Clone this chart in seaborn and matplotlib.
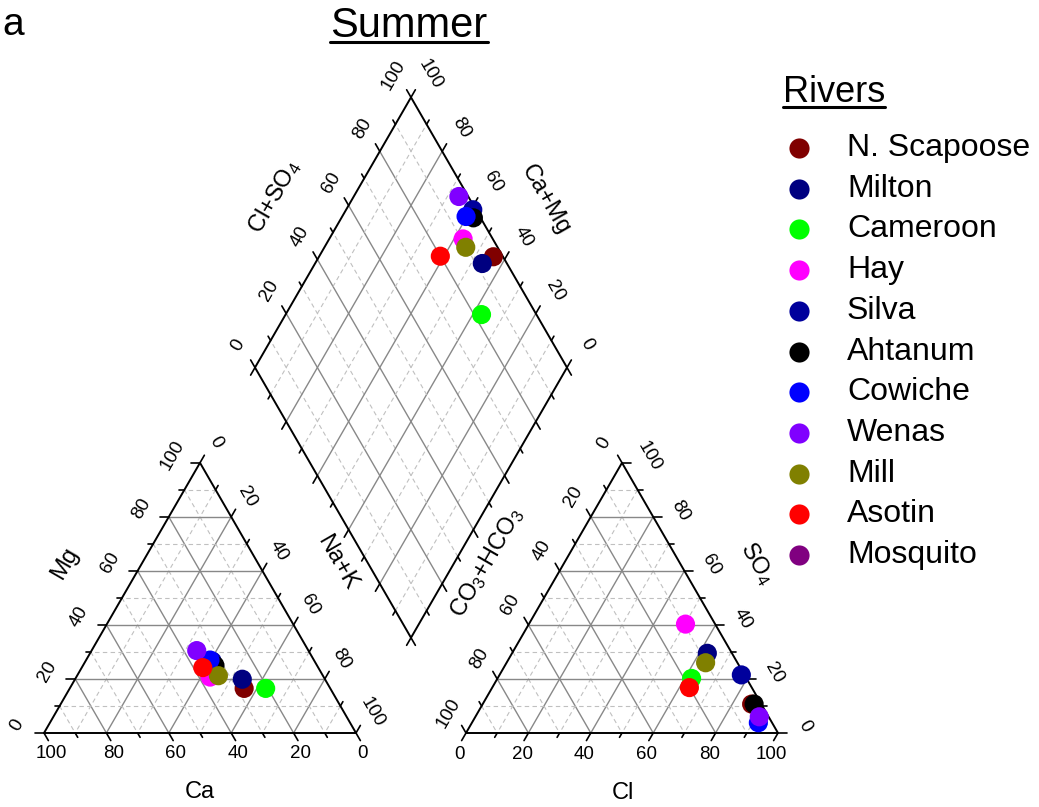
import numpy as np
import pandas as pd
import matplotlib
matplotlib.use("Agg")
import matplotlib.pyplot as plt
from matplotlib.lines import Line2D
import seaborn as sns

# ---------------- data (percent of meq) ----------------
rivers = ["N. Scapoose", "Milton", "Cameroon", "Hay", "Silva", "Ahtanum",
          "Cowiche", "Wenas", "Mill", "Asotin", "Mosquito"]
colors = ["#800000", "#000080", "#00ff00", "#ff00ff", "#00009c", "#000000",
          "#0000ff", "#8000ff", "#808000", "#ff0000", "#800080"]
ca   = [27.6, 26.5, 20.7, 36.4, 32.8, 32.7, 33.3, 35.8, 33.5, 37.0, np.nan]
mg   = [16.5, 19.9, 16.5, 20.7, 26.6, 25.0, 27.0, 30.5, 21.2, 24.2, np.nan]
nak  = [55.9, 53.6, 62.8, 42.9, 40.6, 42.3, 39.7, 33.7, 45.3, 38.8, np.nan]
cl   = [86.2, 62.6, 62.2, 50.2, 77.5, 87.0, 91.8, 91.0, 63.8, 63.2, np.nan]
so4  = [10.7, 29.5, 20.2, 40.3, 21.5, 10.7, 3.8, 6.0, 26.0, 16.8, np.nan]
hco3 = [3.1, 7.9, 17.6, 9.5, 1.0, 2.3, 4.4, 3.0, 10.2, 20.0, np.nan]
tick_values = list(range(0, 101, 10))

# ---------------- style ----------------
sns.set_style("white")
plt.rcParams['font.family'] = ['Liberation Sans', 'DejaVu Sans']
plt.rcParams['text.color'] = 'black'
plt.rcParams['mathtext.fontset'] = 'custom'
plt.rcParams['mathtext.rm'] = 'Liberation Sans'
plt.rcParams['mathtext.it'] = 'Liberation Sans:italic'
plt.rcParams['mathtext.default'] = 'regular'

W, Hpx = 1039, 807
SC = 312.0
OX, OY = 44.0, 733.0
fig = plt.figure(figsize=(W / 100, Hpx / 100), dpi=100)
ax = fig.add_axes([0, 0, 1, 1])
ax.set_xlim(-OX / SC, (W - OX) / SC)
ax.set_ylim((OY - Hpx) / SC, OY / SC)
ax.axis('off')

H = np.sqrt(3) / 2
GAP = 110.0 / SC
X0 = 1 + GAP
B = np.array([1 + GAP / 2, GAP * H])
UR = np.array([0.5, H])
UL = np.array([-0.5, H])

MAJ_C, MIN_C = '#888888', '#c0c0c0'
TICK_FS = 13.5
LAB_FS = 17


def tpoint(V, fr):
    p = np.zeros(2)
    for k, v in fr.items():
        p = p + v / 100.0 * np.asarray(V[k], dtype=float)
    return p


def draw_ternary(V, comps, edges):
    # grid
    for k in comps:
        j, m = [c for c in comps if c != k]
        for t in range(10, 100, 10):
            p1 = tpoint(V, {k: t, j: 0, m: 100 - t})
            p2 = tpoint(V, {k: t, m: 0, j: 100 - t})
            if t % 20 == 0:
                ax.plot([p1[0], p2[0]], [p1[1], p2[1]], color=MAJ_C, lw=1.0, zorder=1)
            else:
                ax.plot([p1[0], p2[0]], [p1[1], p2[1]], color=MIN_C, lw=0.8,
                        ls=(0, (4, 3)), zorder=1)
    # frame
    vs = [np.asarray(V[c]) for c in comps] + [np.asarray(V[comps[0]])]
    ax.plot([v[0] for v in vs], [v[1] for v in vs], color='black', lw=1.4, zorder=3)
    # ticks + labels
    for k, zero, other, rot, off in edges:
        rest = [c for c in comps if c not in (k, zero)][0]
        pa = tpoint(V, {k: 50, zero: 0, rest: 50})
        pb = tpoint(V, {k: 50, rest: 0, zero: 50})
        d = (pa - pb) / np.linalg.norm(pa - pb)
        for t in tick_values:
            p = tpoint(V, {k: t, zero: 0, rest: 100 - t})
            L = 0.028 if t % 20 == 0 else 0.016
            ax.plot([p[0], p[0] + d[0] * L], [p[1], p[1] + d[1] * L],
                    color='black', lw=1.2, zorder=3)
            if t % 20 == 0:
                ax.text(p[0] + off[0], p[1] + off[1], str(t), rotation=rot,
                        ha='center', va='center', fontsize=TICK_FS, zorder=4)


# left (cation) triangle
VL = {'Ca': (0, 0), 'NaK': (1, 0), 'Mg': (0.5, H)}
draw_ternary(VL, ['Ca', 'NaK', 'Mg'],
             [('Ca', 'Mg', 'NaK', 0, (0.022, -0.065)),
              ('Mg', 'NaK', 'Ca', 60, (-0.088, 0.025)),
              ('NaK', 'Ca', 'Mg', -60, (0.052, 0.065))])
# right (anion) triangle
VR = {'CO3': (X0, 0), 'Cl': (X0 + 1, 0), 'SO4': (X0 + 0.5, H)}
draw_ternary(VR, ['CO3', 'Cl', 'SO4'],
             [('Cl', 'SO4', 'CO3', 0, (-0.02, -0.07)),
              ('CO3', 'Cl', 'SO4', 60, (-0.057, 0.064)),
              ('SO4', 'CO3', 'Cl', -60, (0.087, 0.02))])


# diamond
def dpt(a, c):
    return B + a / 100.0 * UR + c / 100.0 * UL


for t in range(10, 100, 10):
    for p1, p2 in [(dpt(t, 0), dpt(t, 100)), (dpt(0, t), dpt(100, t))]:
        if t % 20 == 0:
            ax.plot([p1[0], p2[0]], [p1[1], p2[1]], color=MAJ_C, lw=1.0, zorder=1)
        else:
            ax.plot([p1[0], p2[0]], [p1[1], p2[1]], color=MIN_C, lw=0.8,
                    ls=(0, (4, 3)), zorder=1)
corners = [dpt(0, 0), dpt(100, 0), dpt(100, 100), dpt(0, 100), dpt(0, 0)]
ax.plot([p[0] for p in corners], [p[1] for p in corners], color='black', lw=1.4, zorder=3)
for t in tick_values:
    L = 0.028 if t % 20 == 0 else 0.016
    # upper-left edge (c=100): Cl+SO4
    p = dpt(t, 100)
    ax.plot([p[0], p[0] + UL[0] * L], [p[1], p[1] + UL[1] * L], color='black', lw=1.2, zorder=3)
    if t % 20 == 0:
        ax.text(p[0] - 0.055, p[1] + 0.072, str(t), rotation=60, ha='center',
                va='center', fontsize=TICK_FS)
    # upper-right edge (a=100): Ca+Mg
    p = dpt(100, t)
    ax.plot([p[0], p[0] + UR[0] * L], [p[1], p[1] + UR[1] * L], color='black', lw=1.2, zorder=3)
    if t % 20 == 0:
        ax.text(p[0] + 0.062, p[1] + 0.074, str(t), rotation=-60, ha='center',
                va='center', fontsize=TICK_FS)
    # lower edges: ticks only
    p = dpt(0, t)
    ax.plot([p[0], p[0] - UR[0] * L], [p[1], p[1] - UR[1] * L], color='black', lw=1.2, zorder=3)
    p = dpt(t, 0)
    ax.plot([p[0], p[0] - UL[0] * L], [p[1], p[1] - UL[1] * L], color='black', lw=1.2, zorder=3)

# axis titles
ax.text(0.5, -0.189, "Ca", ha='center', va='center', fontsize=LAB_FS)
ax.text(0.067, 0.545, "Mg", rotation=60, ha='center', va='center', fontsize=LAB_FS)
ax.text(0.939, 0.545, "Na+K", rotation=-60, ha='center', va='center', fontsize=LAB_FS)
ax.text(1.856, -0.192, "Cl", ha='center', va='center', fontsize=LAB_FS)
ax.text(1.42, 0.545, r"CO$_3$+HCO$_3$", rotation=60, ha='center', va='center', fontsize=LAB_FS)
ax.text(2.285, 0.545, r"SO$_4$", rotation=-60, ha='center', va='center', fontsize=LAB_FS)
ax.text(0.740, 1.718, r"Cl+SO$_4$", rotation=60, ha='center', va='center', fontsize=LAB_FS)
ax.text(1.606, 1.708, "Ca+Mg", rotation=-60, ha='center', va='center', fontsize=LAB_FS)

# ---------------- data points ----------------
df = pd.DataFrame({"river": rivers, "Ca": ca, "Mg": mg, "NaK": nak,
                   "Cl": cl, "SO4": so4, "HCO3": hco3}).dropna()
left = pd.DataFrame({"river": df.river,
                     "x": (df.NaK + 0.5 * df.Mg) / 100,
                     "y": H * df.Mg / 100})
right = pd.DataFrame({"river": df.river,
                      "x": X0 + (df.Cl + 0.5 * df.SO4) / 100,
                      "y": H * df.SO4 / 100})
a = df.Cl + df.SO4
c = df.Ca + df.Mg
dia = pd.DataFrame({"river": df.river,
                    "x": B[0] + 0.5 * (a - c) / 100,
                    "y": B[1] + H * (a + c) / 100})
pts = pd.concat([left, right, dia], ignore_index=True)
palette = dict(zip(rivers, colors))
sns.scatterplot(data=pts, x="x", y="y", hue="river", palette=palette, s=190,
                edgecolor='none', linewidth=0, legend=False, ax=ax, zorder=5)
ax.set_xlim(-OX / SC, (W - OX) / SC)
ax.set_ylim((OY - Hpx) / SC, OY / SC)
ax.axis('off')


# ---------------- titles & legend (figure pixel coords) ----------------
def fx(px):
    return px / W


def fy(py):
    return 1 - py / Hpx


fig.text(fx(2), fy(35), "a", ha='left', va='baseline', fontsize=28)
t_sum = fig.text(fx(409), fy(37), "Summer", ha='center', va='baseline', fontsize=30)
t_riv = fig.text(fx(783), fy(102), "Rivers", ha='left', va='baseline', fontsize=26)
for i, (name, col) in enumerate(zip(rivers, colors)):
    yy = 148 + 40.7 * i
    fig.add_artist(Line2D([fx(799)], [fy(yy)], marker='o', markersize=14.5,
                          color=col, markeredgewidth=0, linestyle='none',
                          transform=fig.transFigure))
    fig.text(fx(847), fy(yy), name, ha='left', va='center', fontsize=23)

fig.canvas.draw()
r = fig.canvas.get_renderer()
for t, uy in [(t_sum, 42), (t_riv, 107)]:
    bb = t.get_window_extent(renderer=r)
    fig.add_artist(Line2D([bb.x0 / W, bb.x1 / W], [fy(uy), fy(uy)], color='black',
                          lw=2.2, transform=fig.transFigure))

fig.savefig("out.png", dpi=100)
